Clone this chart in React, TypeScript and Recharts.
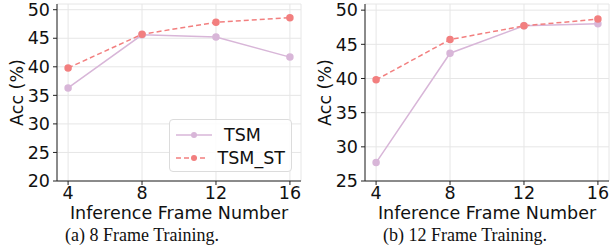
import React from 'react'
import { LineChart, Line, XAxis, YAxis, CartesianGrid, Label } from 'recharts'

const frames = [4, 8, 12, 16]
const tsm8 = [36.3, 45.6, 45.2, 41.7]
const tsmSt8 = [39.8, 45.7, 47.8, 48.6]
const tsm12 = [27.7, 43.7, 47.7, 48.0]
const tsmSt12 = [39.8, 45.7, 47.7, 48.7]
const yTicks8 = [20, 25, 30, 35, 40, 45, 50]
const yTicks12 = [25, 30, 35, 40, 45, 50]
const captions = ['(a) 8 Frame Training.', '(b) 12 Frame Training.']

const TSM_COLOR = '#d8b6d8'
const ST_COLOR = '#f27f7f'
const FONT = '"DejaVu Sans", sans-serif'
const FS = 17.5
const tickStyle = { fill: '#111', fontSize: FS, fontFamily: FONT }

const toRows = (a: number[], b: number[]) =>
  frames.map((f, i) => ({ frame: f, tsm: a[i], st: b[i] }))

const YTitle = (props: any) => {
  const { viewBox } = props
  const x = viewBox.x + 0
  const y = viewBox.y + viewBox.height / 2
  return (
    <text x={x} y={y} transform={`rotate(-90 ${x} ${y})`} textAnchor="middle" dominantBaseline="central"
      fontSize={FS} fontFamily={FONT} fill="#111">Acc (%)</text>
  )
}

const XTitle = (props: any) => {
  const { viewBox } = props
  return (
    <text x={viewBox.x + viewBox.width / 2} y={viewBox.y + 38} textAnchor="middle"
      fontSize={FS} fontFamily={FONT} fill="#111">Inference Frame Number</text>
  )
}

const legendItems = [
  { name: 'TSM', color: TSM_COLOR, dash: undefined },
  { name: 'TSM_ST', color: ST_COLOR, dash: '5 3' },
]

const LegendBox = () => (
  <div style={{
    position: 'absolute', left: 169, top: 119, width: 123, height: 53,
    border: '1px solid #dcdcdc', borderRadius: 4, background: 'rgba(255,255,255,0.85)',
    padding: '3px 6px', fontFamily: FONT, fontSize: FS, color: '#111', boxSizing: 'border-box'
  }}>
    {legendItems.map(e => (
      <div key={e.name} style={{ display: 'flex', alignItems: 'center', height: 23 }}>
        <svg width={36} height={10} style={{ marginRight: 12 }}>
          <line x1={0} y1={5} x2={36} y2={5} stroke={e.color} strokeWidth={1.5} strokeDasharray={e.dash} />
          <circle cx={18} cy={5} r={3} fill={e.color} />
        </svg>
        <span>{e.name}</span>
      </div>
    ))}
  </div>
)

function Panel({ rows, yDomain, yTicks, width, marginLeft, marginRight }: any) {
  return (
    <LineChart width={width} height={222} data={rows}
      margin={{ top: 4, right: marginRight, bottom: 5, left: marginLeft }}>
      <CartesianGrid stroke="#e6e6e6" strokeWidth={1} />
      <XAxis dataKey="frame" type="number" domain={[3.4, 16.6]} ticks={frames} allowDataOverflow
        interval={0} height={36} tickSize={4} tickMargin={2} tick={tickStyle} stroke="#222"
        label={<Label content={<XTitle />} />} />
      <XAxis xAxisId="top" orientation="top" type="number" domain={[0, 1]} height={0}
        tick={false} tickLine={false} stroke="#222" />
      <YAxis type="number" domain={yDomain} ticks={yTicks} allowDataOverflow width={40} interval={0}
        tickSize={4} tickMargin={3} tick={tickStyle} stroke="#222"
        label={<Label content={<YTitle />} />} />
      <YAxis yAxisId="right" orientation="right" type="number" domain={[0, 1]} width={0}
        tick={false} tickLine={false} stroke="#222" />
      <Line dataKey="tsm" name="TSM" stroke={TSM_COLOR} strokeWidth={1.5}
        dot={{ r: 3, fill: TSM_COLOR, stroke: TSM_COLOR }} isAnimationActive={false} />
      <Line dataKey="st" name="TSM_ST" stroke={ST_COLOR} strokeWidth={1.5} strokeDasharray="5 3"
        dot={{ r: 3, fill: ST_COLOR, stroke: ST_COLOR, strokeDasharray: '' }} isAnimationActive={false} />
    </LineChart>
  )
}

export default function App() {
  const capStyle: React.CSSProperties = {
    position: 'absolute', top: 225, fontFamily: '"Liberation Serif", serif', fontSize: 18,
    color: '#111', textAlign: 'center', whiteSpace: 'nowrap'
  }
  return (
    <div style={{ position: 'absolute', left: 0, top: 0, width: 613, height: 252, background: '#fff' }}>
      <div style={{ position: 'absolute', left: 0, top: 0 }}>
        <Panel rows={toRows(tsm8, tsmSt8)} yDomain={[20, 51]} yTicks={yTicks8}
          width={306} marginLeft={17} marginRight={5} />
        <LegendBox />
      </div>
      <div style={{ position: 'absolute', left: 306, top: 0 }}>
        <Panel rows={toRows(tsm12, tsmSt12)} yDomain={[25, 50.9]} yTicks={yTicks12}
          width={307} marginLeft={19} marginRight={4} />
      </div>
      <div style={{ ...capStyle, left: 42, width: 200 }}>{captions[0]}</div>
      <div style={{ ...capStyle, left: 365, width: 200 }}>{captions[1]}</div>
    </div>
  )
}
